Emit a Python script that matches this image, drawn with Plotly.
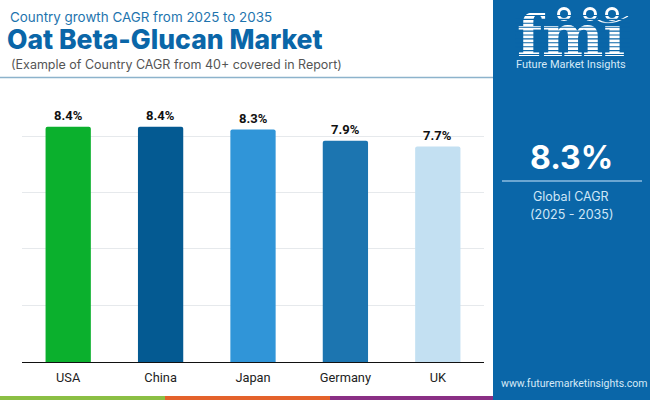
import plotly.graph_objects as go

countries = ["USA", "China", "Japan", "Germany", "UK"]
cagr = [8.4, 8.4, 8.3, 7.9, 7.7]
labels = ["8.4%", "8.4%", "8.3%", "7.9%", "7.7%"]
grid_values = [2.02, 4.04, 6.05, 8.07]
bar_colors = ["#0BB02D", "#045A92", "#3095D8", "#1C75B0", "#C3E0F2"]

W, H = 650, 400
BLUE = "#0A66A8"
px = lambda x: x / W
py = lambda y: 1 - y / H

fig = go.Figure(go.Bar(
    x=countries, y=cagr, marker_color=bar_colors,
    marker_line_width=0, hoverinfo="skip", width=0.49,
))

shapes = []
def rect(x0, y0, x1, y1, color, layer="below"):
    shapes.append(dict(type="rect", xref="paper", yref="paper", x0=px(x0), x1=px(x1),
                       y0=py(y0), y1=py(y1), fillcolor=color, line_width=0, layer=layer))
def line(x0, y0, x1, y1, color, w=1, layer="above"):
    shapes.append(dict(type="line", xref="paper", yref="paper", x0=px(x0), x1=px(x1),
                       y0=py(y0), y1=py(y1), line=dict(color=color, width=w), layer=layer))
def circle(cx, cy, r, color, layer="above"):
    shapes.append(dict(type="circle", xref="paper", yref="paper", x0=px(cx - r), x1=px(cx + r),
                       y0=py(cy - r), y1=py(cy + r), fillcolor=color, line_width=0, layer=layer))

rect(493, 0, 650, 400, BLUE)
rect(0, 396, 165, 400, "#8BBF44")
rect(165, 396, 330, 400, "#E4622B")
rect(330, 396, 493, 400, "#8A2F85")
line(0, 77.5, 493, 77.5, "#8DB3CC", 1.5)
line(502, 181, 642, 181, "#8DBDE0", 1.5)

for cx, cy, r in [(564, 14, 7), (590, 14, 7), (612, 14, 7)]:
    circle(cx, cy, r, "#FFFFFF")
    circle(cx, cy, r - 3, BLUE)
shapes.append(dict(type="path", xref="paper", yref="paper",
                   path=f"M {px(597)} {py(19)} Q {px(608)} {py(28)} {px(628)} {py(16)}",
                   line=dict(color="#FFFFFF", width=1.3), layer="above"))

def note(text, x, y, size, color, family="Inter", anchor="left", weight="normal", height=None):
    return dict(text=text, xref="paper", yref="paper", x=px(x), y=py(y), xanchor=anchor,
                yanchor="middle", showarrow=False, height=height,
                font=dict(family=family, size=size, color=color, weight=weight))

annotations = [
    note("Country growth CAGR from 2025 to 2035", 8, 17, 13.4, "#1E74AE"),
    note("Oat Beta-Glucan Market", 5, 39, 26.5, "#0A66A8", weight=800, height=22),
    note("(Example of Country CAGR from 40+ covered in Report)", 9, 64, 12.5, "#555555"),
    note("fm\u0131", 571, 36, 58, "#FFFFFF", family="DejaVu Serif", anchor="center", weight="bold", height=46),
    note("Future Market Insights", 571, 64, 11, "#D5E9F7", family="Roboto", anchor="center"),
    note("8.3%", 571, 157, 32, "#FFFFFF", anchor="center", weight="bold"),
    note("Global CAGR", 571, 197, 12.5, "#CFE6F7", anchor="center"),
    note("(2025 - 2035)", 571, 214, 12.5, "#CFE6F7", anchor="center"),
    note("www.futuremarketinsights.com", 574, 383, 10.5, "#D5E9F7", family="Roboto", anchor="center"),
]

# value labels, placed from the data
for c, v, t in zip(countries, cagr, labels):
    annotations.append(dict(text=t, x=c, y=v, xref="x", yref="y", yanchor="middle", yshift=11,
                            showarrow=False,
                            font=dict(family="Roboto", size=13, color="#111111", weight="bold")))

# logo stripes: annotation arrows are the only lines that sit above the lettering
for i in range(11):
    y = 15.5 + i * 3.9
    annotations.append(dict(text=" ", xref="paper", yref="paper", x=px(630), y=py(y),
                            axref="pixel", ayref="pixel", ax=-116, ay=0, showarrow=True,
                            arrowhead=0, arrowwidth=1.1, arrowcolor=BLUE, standoff=0,
                            font=dict(size=1)))

fig.update_layout(
    width=W, height=H, margin=dict(l=0, r=0, t=0, b=0), showlegend=False,
    paper_bgcolor="#FFFFFF", plot_bgcolor="rgba(0,0,0,0)",
    shapes=shapes, annotations=annotations, barcornerradius=2,
    xaxis=dict(domain=[px(22), px(484)], showline=True, linecolor="#111111", linewidth=1,
               ticks="", ticklabelstandoff=4,
               tickfont=dict(family="Roboto", size=12.8, color="#222222"), fixedrange=True),
    yaxis=dict(domain=[py(362), py(82)], range=[0, 10], tickvals=grid_values, showticklabels=False,
               showline=False, gridcolor="#E6E9EC", gridwidth=1, zeroline=False, fixedrange=True),
)
fig.write_html("out.html", config={"displayModeBar": False},
               post_script="document.body.style.margin='0';")
